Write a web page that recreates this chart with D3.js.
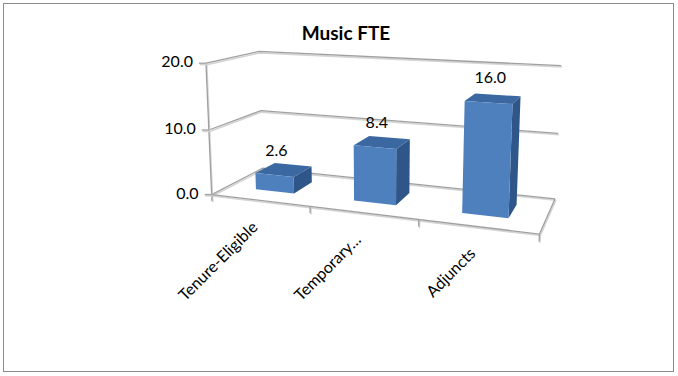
<!DOCTYPE html>
<html>
<head>
<meta charset="utf-8">
<script src="https://cdn.jsdelivr.net/npm/d3@7"></script>
<style>
  body { margin: 0; background: #fff; }
  svg { display: block; }
</style>
</head>
<body>
<svg id="chart" width="678" height="376"></svg>
<script>
// --- data ---
const categories = ["Tenure-Eligible", "Temporary…", "Adjuncts"];
const fte = [2.6, 8.4, 16.0];
const yTicks = [0, 10, 20];

// --- camera: box corners (u, v, w in 0..1) seen on screen ---
const calib = [
  [0, 0, 0, 213, 193], [1, 0, 0, 540, 235], [0, 0, 1, 261, 170], [1, 0, 1, 555, 198],
  [0, 1, 0, 204, 65], [0, 1, 1, 261, 50], [1, 1, 1, 561, 66],
  [0, .5, 0, 209, 129], [0, .5, 1, 261, 111], [1, .5, 1, 558, 133]
];

// fit a 3x4 projective matrix (DLT, last entry = 1)
function fitCamera(pts) {
  const A = [], b = [];
  pts.forEach(([X, Y, Z, x, y]) => {
    A.push([X, Y, Z, 1, 0, 0, 0, 0, -x * X, -x * Y, -x * Z]); b.push(x);
    A.push([0, 0, 0, 0, X, Y, Z, 1, -y * X, -y * Y, -y * Z]); b.push(y);
  });
  const n = 11;
  const M = d3.range(n).map(i => d3.range(n + 1).map(j =>
    j < n ? d3.sum(A, r => r[i] * r[j]) : d3.sum(A, (r, k) => r[i] * b[k])));
  for (let c = 0; c < n; c++) {
    let p = c;
    for (let r = c + 1; r < n; r++) if (Math.abs(M[r][c]) > Math.abs(M[p][c])) p = r;
    [M[c], M[p]] = [M[p], M[c]];
    for (let r = 0; r < n; r++) {
      if (r === c) continue;
      const f = M[r][c] / M[c][c];
      for (let k = c; k <= n; k++) M[r][k] -= f * M[c][k];
    }
  }
  return M.map((r, i) => r[n] / r[i]);
}
const P = fitCamera(calib);
function proj(u, v, w) {
  const d = P[8] * u + P[9] * v + P[10] * w + 1;
  return [(P[0] * u + P[1] * v + P[2] * w + P[3]) / d,
          (P[4] * u + P[5] * v + P[6] * w + P[7]) / d];
}

const svg = d3.select("#chart");
const font = "Lato, 'Open Sans', sans-serif";

// chart border
svg.append("rect")
  .attr("x", 3.5).attr("y", 3.5).attr("width", 670).attr("height", 368)
  .attr("fill", "#fff").attr("stroke", "#8c8c8c").attr("stroke-width", 1);

const x = d3.scaleBand().domain(categories).range([0, 1])
  .paddingInner(0.6).paddingOuter(0.3);
const y = d3.scaleLinear().domain([0, 20]).range([0, 1]);
const depth = [0.3, 0.7];

const line = d3.line();
const frame = svg.append("g").attr("fill", "none");

function drawLine(pts) {
  frame.append("path").attr("d", line(pts.map(p => [p[0] + 0.8, p[1] + 1.4])))
    .attr("stroke", "#d4d4d4").attr("stroke-width", 1.6);
  frame.append("path").attr("d", line(pts))
    .attr("stroke", "#a0a0a0").attr("stroke-width", 1.3);
}

// gridlines on side and back walls
yTicks.forEach(t => drawLine([proj(0, y(t), 0), proj(0, y(t), 1), proj(1, y(t), 1)]));
// value axis
drawLine([proj(0, 0, 0), proj(0, 1, 0)]);
// floor front and right edges
drawLine([proj(0, 0, 0), proj(1, 0, 0), proj(1, 0, 1)]);
// category ticks
d3.range(categories.length + 1).forEach(i => {
  const u = i / categories.length;
  drawLine([proj(u, 0, 0), proj(u, -0.05, 0)]);
});
// value ticks
yTicks.forEach(t => {
  const p = proj(0, y(t), 0);
  drawLine([p, [p[0] - 7, p[1]]]);
});

// value axis labels
svg.append("g").selectAll("text").data(yTicks).join("text")
  .attr("x", d => proj(0, y(d), 0)[0] - 13)
  .attr("y", d => proj(0, y(d), 0)[1])
  .attr("text-anchor", "end").attr("dominant-baseline", "middle")
  .attr("font-family", font).attr("font-size", 16).attr("fill", "#000")
  .text(d3.format(".1f"));

// bars
const bars = svg.append("g").selectAll("g").data(categories).join("g");
bars.each(function (c, i) {
  const g = d3.select(this);
  const u0 = x(c), u1 = u0 + x.bandwidth(), v = y(fte[i]);
  const [w0, w1] = depth;
  const faces = [
    { pts: [proj(u1, 0, w0), proj(u1, 0, w1), proj(u1, v, w1), proj(u1, v, w0)], fill: "#2f5689" },
    { pts: [proj(u0, v, w0), proj(u1, v, w0), proj(u1, v, w1), proj(u0, v, w1)], fill: "#3c68a2" },
    { pts: [proj(u0, 0, w0), proj(u1, 0, w0), proj(u1, v, w0), proj(u0, v, w0)], fill: "#4e80bd" }
  ];
  g.selectAll("path").data(faces).join("path")
    .attr("d", d => line(d.pts) + "Z")
    .attr("fill", d => d.fill);
});

// value labels
svg.append("g").selectAll("text").data(categories).join("text")
  .attr("x", (c, i) => proj(x(c) + x.bandwidth() / 2, y(fte[i]), depth[0])[0] + 2)
  .attr("y", (c, i) => proj(x(c) + x.bandwidth() / 2, y(fte[i]), depth[0])[1] - 19)
  .attr("text-anchor", "middle")
  .attr("font-family", font).attr("font-size", 16).attr("fill", "#000")
  .text((c, i) => d3.format(".1f")(fte[i]));

// category labels
svg.append("g").selectAll("text").data(categories).join("text")
  .attr("transform", c => {
    const p = proj(x(c) + x.bandwidth() / 2, 0, 0);
    return `translate(${p[0] - 1},${p[1] + 28}) rotate(-45)`;
  })
  .attr("text-anchor", "end")
  .attr("font-family", font).attr("font-size", 16).attr("fill", "#000")
  .text(c => c);

// title
svg.append("text")
  .attr("x", 346).attr("y", 40)
  .attr("text-anchor", "middle")
  .attr("font-family", font).attr("font-size", 19).attr("font-weight", "bold")
  .text("Music FTE");
</script>
</body>
</html>
